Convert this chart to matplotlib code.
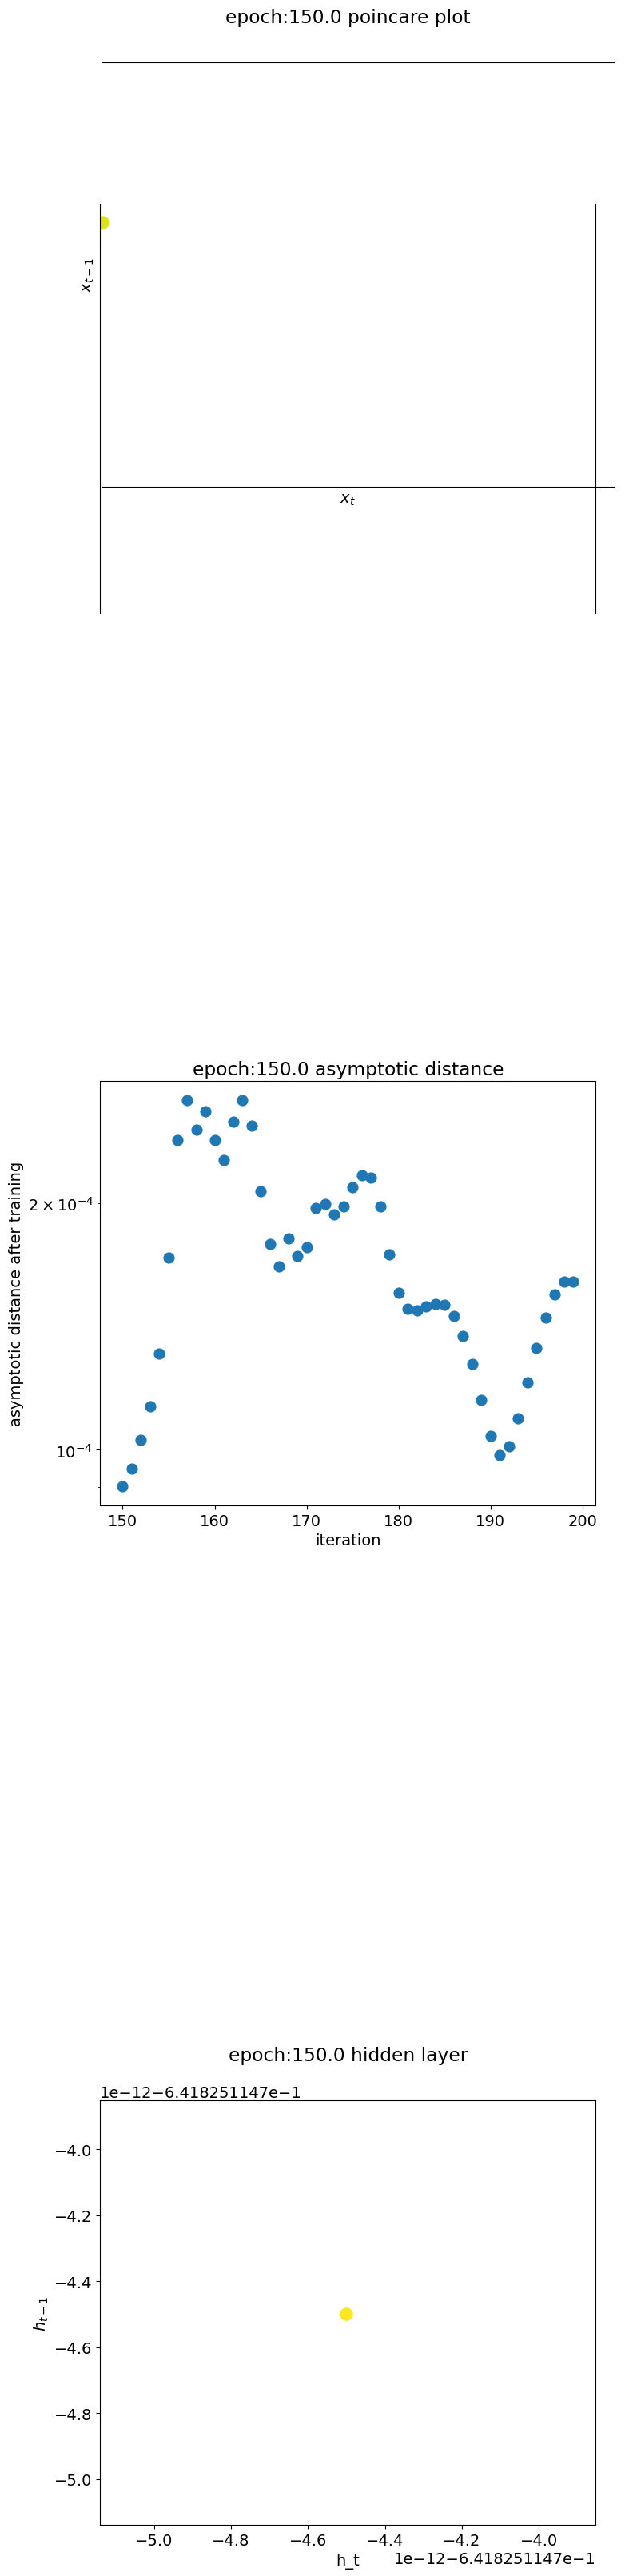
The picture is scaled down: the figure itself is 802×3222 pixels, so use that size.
import matplotlib
matplotlib.use("Agg")
import matplotlib.pyplot as plt
import numpy as np

plt.rcParams['font.size'] = 14

# --- data ---
epoch = 150.0

# poincare plot: one point, no ticks shown (axes units 0..1)
poincare_xt = [0.0044]
poincare_xtm1 = [0.6245]

# asymptotic distance per iteration
iterations = list(range(150, 200))
asym_dist = [
    9.03e-5, 9.48e-5, 1.029e-4, 1.130e-4, 1.311e-4, 1.716e-4, 2.387e-4, 2.669e-4,
    2.457e-4, 2.588e-4, 2.387e-4, 2.256e-4, 2.515e-4, 2.669e-4, 2.485e-4, 2.066e-4,
    1.784e-4, 1.673e-4, 1.811e-4, 1.723e-4, 1.766e-4, 1.972e-4, 1.997e-4, 1.938e-4,
    1.982e-4, 2.092e-4, 2.163e-4, 2.149e-4, 1.982e-4, 1.731e-4, 1.554e-4, 1.486e-4,
    1.479e-4, 1.495e-4, 1.507e-4, 1.503e-4, 1.456e-4, 1.377e-4, 1.274e-4, 1.151e-4,
    1.041e-4, 0.986e-4, 1.011e-4, 1.093e-4, 1.208e-4, 1.332e-4, 1.450e-4, 1.547e-4,
    1.604e-4, 1.604e-4,
]

# hidden layer: a single fixed point
h_offset = -0.6418251147
h_t = [h_offset - 4.5e-12]
h_tm1 = [h_offset - 4.5e-12]
h_lim = (h_offset - 5.1397e-12, h_offset - 3.8526e-12)

# --- figure ---
W, H = 802, 3223
fig = plt.figure(figsize=(W / 100, H / 100), dpi=100)


def px_axes(left, top, right, bottom):
    # axes rectangle given in image pixels (y measured from top)
    return fig.add_axes([left / W, 1 - bottom / H, (right - left) / W, (bottom - top) / H])


# poincare plot
ax1 = px_axes(125.3, 79.3, 745.3, 610.0)
ax1.scatter(poincare_xt, poincare_xtm1, s=120, color='#dde318')
ax1.set_xlim(0, 1)
ax1.set_ylim(0, 1)
ax1.set_xticks([])
ax1.set_yticks([])
for side in ('top', 'bottom'):
    ax1.spines[side].set_bounds(0.0044, 1.0382)
for side in ('left', 'right'):
    ax1.spines[side].set_bounds(-0.298, 0.6667)
ax1.set_xlabel('$x_t$')
ax1.set_ylabel('$x_{t-1}$')
ax1.set_title(f'epoch:{epoch} poincare plot', y=1.0, pad=36)

# asymptotic distance
ax2 = px_axes(125.3, 1353.3, 745.3, 1884.0)
ax2.scatter(iterations, asym_dist, s=85)
ax2.set_yscale('log')
ax2.set_xlabel('iteration')
ax2.set_ylabel('asymptotic distance after training')
ax2.set_title(f'epoch:{epoch} asymptotic distance')

# hidden layer
ax3 = px_axes(125.3, 2628.3, 745.3, 3159.3)
ax3.scatter(h_t, h_tm1, s=120, color='#fde725')
ax3.set_xlim(*h_lim)
ax3.set_ylim(*h_lim)
ax3.set_xlabel('h_t')
ax3.set_ylabel('$h_{t-1}$')
ax3.set_title(f'epoch:{epoch} hidden layer', y=1.0, pad=36)

fig.savefig('out.png', dpi=100)
